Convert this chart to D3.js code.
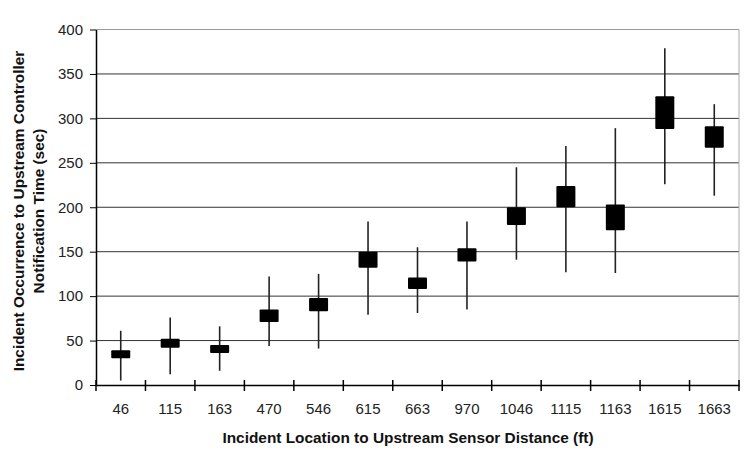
<!DOCTYPE html>
<html><head><meta charset="utf-8">
<script src="https://cdn.jsdelivr.net/npm/d3@7"></script>
<style>body{margin:0;background:#fff}svg{display:block}</style>
</head><body>
<svg id="c" width="746" height="465"></svg>
<script>
const categories = ["46","115","163","470","546","615","663","970","1046","1115","1163","1615","1663"];
const highs = [61, 76, 66, 122, 125, 184, 155, 184, 245, 269, 289, 379, 316];
const q3s   = [39, 52, 45, 85, 98, 150, 121, 154, 200, 224, 203, 325, 291];
const q1s   = [30, 42, 36, 71, 83, 132, 108, 139, 180, 200, 174, 288, 267];
const lows  = [5, 12, 16, 44, 41, 79, 81, 85, 141, 127, 126, 226, 213];
const yTicks = [0,50,100,150,200,250,300,350,400];

const data = categories.map((c,i)=>({c, hi:highs[i], q3:q3s[i], q1:q1s[i], lo:lows[i]}));
const svg = d3.select("#c");
const L=96, R=739, T=29.5, B=385;
const x = d3.scaleBand().domain(categories).range([L,R]);
const y = d3.scaleLinear().domain([0,400]).range([B,T]);
const font = "'Liberation Sans', Arial, sans-serif";

// gridlines
svg.append("g").selectAll("line").data(yTicks.filter(d=>d>0)).join("line")
  .attr("x1",L).attr("x2",R).attr("y1",d=>y(d)).attr("y2",d=>y(d))
  .attr("stroke",d=>d===400?"#999":"#333").attr("stroke-width",1);
// right border
svg.append("line").attr("x1",R).attr("x2",R).attr("y1",T).attr("y2",B).attr("stroke","#aaa");

// y axis
const ya = svg.append("g").attr("transform",`translate(${L},0)`)
  .call(d3.axisLeft(y).tickValues(yTicks).tickSize(5).tickSizeOuter(0).tickPadding(8));
ya.select(".domain").attr("stroke","#000").attr("stroke-width",1.5);
ya.selectAll(".tick line").attr("stroke","#000").attr("x2",-6).attr("x1",0);
ya.selectAll("text").attr("font-family",font).attr("font-size",15).attr("fill","#222");

// x axis
const xa = svg.append("g").attr("transform",`translate(0,${B})`)
  .call(d3.axisBottom(x).tickSize(0).tickPadding(18));
xa.select(".domain").attr("stroke","#000").attr("stroke-width",1.5);
xa.selectAll("text").attr("font-family",font).attr("font-size",15).attr("fill","#222");
// boundary ticks
const bounds = categories.map(c=>x(c)).concat([R]);
xa.append("g").selectAll("line").data(bounds).join("line")
  .attr("x1",d=>d).attr("x2",d=>d).attr("y1",-5).attr("y2",6)
  .attr("stroke","#000").attr("stroke-width",1.5);

// whiskers
const cx = d=>x(d.c)+x.bandwidth()/2;
svg.append("g").selectAll("line").data(data).join("line")
  .attr("x1",cx).attr("x2",cx).attr("y1",d=>y(d.hi)).attr("y2",d=>y(d.lo))
  .attr("stroke","#222").attr("stroke-width",1.6);
// boxes
const bw = 19;
svg.append("g").selectAll("rect").data(data).join("rect")
  .attr("x",d=>cx(d)-bw/2).attr("width",bw)
  .attr("y",d=>y(d.q3)).attr("height",d=>y(d.q1)-y(d.q3))
  .attr("fill","#000").attr("rx",1);

// titles
svg.append("text").attr("x",408).attr("y",443).attr("text-anchor","middle")
  .attr("font-family",font).attr("font-weight","bold").attr("font-size",15.4).attr("fill","#111")
  .text("Incident Location to Upstream Sensor Distance (ft)");
const yt = svg.append("text").attr("transform","translate(0,211) rotate(-90)")
  .attr("text-anchor","middle").attr("font-family",font).attr("font-weight","bold")
  .attr("font-size",15.4).attr("fill","#111");
yt.append("tspan").attr("x",0).attr("y",24).text("Incident Occurrence to Upstream Controller");
yt.append("tspan").attr("x",0).attr("y",44).text("Notification Time (sec)");
</script>
</body></html>
